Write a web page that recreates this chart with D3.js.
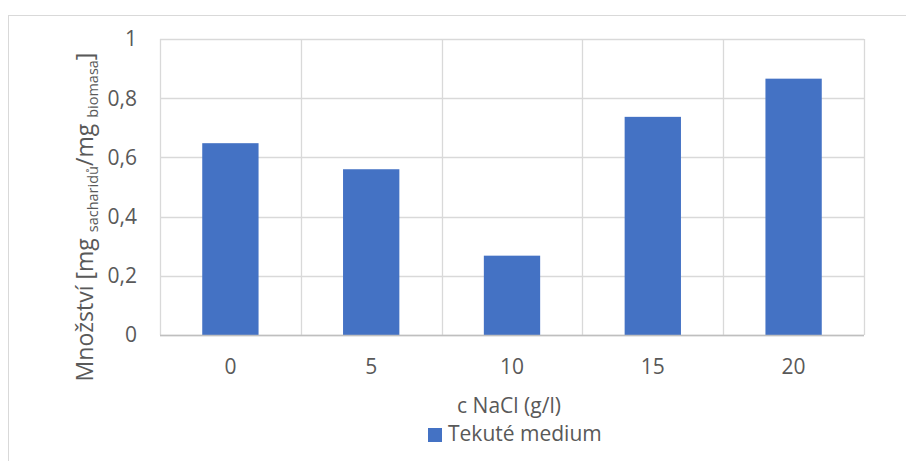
<!DOCTYPE html>
<html><head><meta charset="utf-8">
<script src="https://cdn.jsdelivr.net/npm/d3@7"></script>
<style>body{margin:0;background:#fff}svg{display:block}text{font-family:"Open Sans",sans-serif;fill:#595959}</style>
</head><body>
<script>
const categories = ["0", "5", "10", "15", "20"];
const values = [0.648, 0.56, 0.268, 0.737, 0.866];
const yTicks = [0, 0.2, 0.4, 0.6, 0.8, 1];
const yTickLabels = ["0", "0,2", "0,4", "0,6", "0,8", "1"];
const seriesName = "Tekuté medium";
const xTitle = "c NaCl (g/l)";

const W = 906, H = 461;
const m = {left: 160, top: 39, right: 864, bottom: 335};
const svg = d3.select("body").append("svg").attr("width", W).attr("height", H);

svg.append("rect").attr("x", 8.5).attr("y", 15.5).attr("width", 1000).attr("height", 1000)
  .attr("fill", "none").attr("stroke", "#d9d9d9");

const x = d3.scaleBand().domain(categories).range([m.left, m.right]).paddingInner(0).paddingOuter(0);
const y = d3.scaleLinear().domain([0, 1]).range([m.bottom, m.top]);

// horizontal gridlines
svg.append("g").selectAll("line").data(yTicks).join("line")
  .attr("x1", m.left).attr("x2", m.right)
  .attr("y1", d => Math.round(y(d)) + 0.5).attr("y2", d => Math.round(y(d)) + 0.5)
  .attr("stroke", "#d9d9d9").attr("stroke-width", 1.3);
// vertical gridlines at category boundaries
const bounds = categories.map(c => x(c)).concat([m.right]);
svg.append("g").selectAll("line").data(bounds).join("line")
  .attr("x1", d => Math.round(d) + 0.5).attr("x2", d => Math.round(d) + 0.5)
  .attr("y1", m.top).attr("y2", m.bottom)
  .attr("stroke", "#d9d9d9").attr("stroke-width", 1.3);

// bars
const bw = x.bandwidth() * 0.4;
svg.append("g").selectAll("rect").data(values).join("rect")
  .attr("x", (d, i) => x(categories[i]) + x.bandwidth() / 2 - bw / 2)
  .attr("width", bw)
  .attr("y", d => y(d))
  .attr("height", d => y(0) - y(d))
  .attr("fill", "#4472c4");

// x axis line
svg.append("line").attr("x1", m.left).attr("x2", m.right)
  .attr("y1", Math.round(y(0)) + 0.5).attr("y2", Math.round(y(0)) + 0.5)
  .attr("stroke", "#bfbfbf").attr("stroke-width", 1.3);

// y tick labels
svg.append("g").selectAll("text").data(yTicks).join("text")
  .attr("x", 137).attr("y", d => y(d)).attr("dy", "0.357em")
  .attr("text-anchor", "end").attr("font-size", 21)
  .text((d, i) => yTickLabels[i]);

// x tick labels
svg.append("g").selectAll("text").data(categories).join("text")
  .attr("x", d => x(d) + x.bandwidth() / 2).attr("y", 367).attr("dy", "0.357em")
  .attr("text-anchor", "middle").attr("font-size", 21)
  .text(d => d);

// x title
svg.append("text").attr("x", 509).attr("y", 413)
  .attr("text-anchor", "middle").attr("font-size", 21).text(xTitle);

// y title
const yt = svg.append("text").attr("transform", "translate(93,217) rotate(-90)")
  .attr("text-anchor", "middle").attr("font-size", 23);
yt.append("tspan").text("Množství [mg ");
yt.append("tspan").attr("font-size", 14.5).attr("dy", 5).text("sacharidů");
yt.append("tspan").attr("dy", -5).text("/mg ");
yt.append("tspan").attr("font-size", 14.5).attr("dy", 5).text("biomasa");
yt.append("tspan").attr("dy", -5).text("]");

// legend
svg.append("rect").attr("x", 428).attr("y", 428).attr("width", 14).attr("height", 14).attr("fill", "#4472c4");
svg.append("text").attr("x", 448).attr("y", 441).attr("font-size", 21).text(seriesName);
</script>
</body></html>
